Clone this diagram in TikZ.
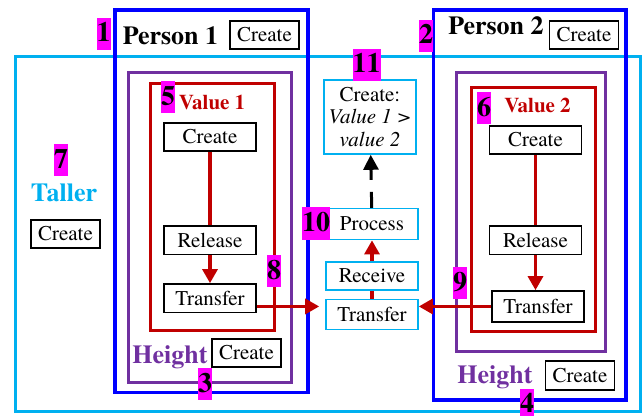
\documentclass[tikz,border=0pt]{standalone}
\usepackage{xcolor}
\usepackage{fontspec}
\setmainfont{texgyretermes}[
  Extension = .otf,
  UprightFont = *-regular,
  BoldFont = *-bold,
  ItalicFont = *-italic,
  BoldItalicFont = *-bolditalic
]
\usepackage{tikz}
\usetikzlibrary{arrows.meta,positioning}
\definecolor{skyline}{HTML}{00B0F0}
\definecolor{personblue}{HTML}{0000FF}
\definecolor{heightviolet}{HTML}{7030A0}
\definecolor{valuered}{HTML}{C00000}
\definecolor{tagpink}{HTML}{FF00FF}
\tikzset{
  every picture/.style = {
    x = 1pt,
    y = -1pt,
  }
  ,
  border line/.style = {
    line width = 3pt
  }
  , % boxes with a step
  action/.style = {
    rectangle,
    draw,
    fill = white,
    line width = 1.6pt,
    font = \fontsize{21}{22.5}\selectfont,
    minimum width = 92pt,
    minimum height = 28.5pt,
    inner sep = 1pt
  }
  ,
  small action/.style = {
    action,
    minimum width = 69pt
  }
  ,
  flow/.style = {
    action,
    draw = skyline
  }
  , % titles of the frames
  heading/.style = {
    font = \fontsize{26}{26}\selectfont\bfseries,
    anchor = base
  }
  , % numbered tags
  numtag/.style = {
    fill = tagpink,
    font = \fontsize{28}{28}\selectfont\bfseries,
    inner sep = 0pt,
    text height = 24pt,
    text depth = 8pt
  }
  ,
  red link/.style = {
    draw = valuered,
    line width = 3.2pt
  }
  ,
  red arrow/.style = {
    red link,
    -{Triangle[length=14pt,width=15pt]}
  }
  ,
  dash arrow/.style = {
    draw = black,
    line width = 3pt,
    dash pattern = on 16pt off 12pt on 60pt,
    -{Triangle[length=15pt,width=15pt]}
  }
}

\begin{document}
\begin{tikzpicture}
\useasboundingbox (0,0) rectangle (643,417);

% frames
\draw[border line, skyline] (15,57) rectangle (640,411.5);
\draw[border line, personblue, line width=3.5pt] (115,10) rectangle (308,392.5);
\draw[border line, personblue, line width=3.5pt] (433.5,10) rectangle (626,400);
\draw[border line, heightviolet] (128.5,72.5) rectangle (291,382.5);
\draw[border line, heightviolet] (456.5,72.5) rectangle (605.5,351.5);
\draw[border line, valuered] (150,83.5) rectangle (274.5,330.5);
\draw[border line, valuered] (471.5,87.5) rectangle (595,331.5);

% value 1
\node [action] (lcreate) at (210,137) {Create};
\node [action, below = 73pt of lcreate] (lrelease) {Release};
\node [action, below = 28pt of lrelease] (ltransfer) {Transfer};

% value 2
\node [action] (rcreate) at (535.5,140) {Create};
\node [action, below = 70pt of rcreate] (rrelease) {Release};
\node [action, below = 35pt of rrelease, xshift = 2.5pt, minimum height = 31pt] (rtransfer) {Transfer};

% middle column
\node [flow, align = center, minimum height = 74pt] (result) at (370,117) {Create:\\\textit{Value 1 >}\\\textit{value 2}};
\node [flow, below = 53pt of result, xshift = 2pt, minimum height = 31pt] (process) {Process};
\node [flow, below = 21pt of process, minimum height = 27.5pt] (receive) {Receive};
\node [flow, below = 8pt of receive, minimum height = 30pt] (mtransfer) {Transfer};

% create boxes of the frames
\node [small action] (p1create) at (264.5,35) {Create};
\node [small action] (p2create) at (584,35) {Create};
\node [small action] (tcreate) at (65.5,234) {Create};
\node [small action] (h1create) at (246.5,353) {Create};
\node [small action] (h2create) at (580,375.5) {Create};

% headings
\node [heading] (person1) at (170.5,45) {Person 1};
\node [heading] (person2) at (496,35) {Person 2};
\node [heading, skyline] (taller) at (64,202) {Taller};
\node [heading, valuered, font = \fontsize{21}{21}\selectfont\bfseries] (value1) at (212,110) {Value 1};
\node [heading, valuered, font = \fontsize{21}{21}\selectfont\bfseries] (value2) at (537.5,113) {Value 2};
\node [heading, heightviolet] (height1) at (170,363) {Height};
\node [heading, heightviolet] (height2) at (495,383) {Height};

% tags
\node [numtag] (tag1) at (103.5,34) {1};
\node [numtag] (tag2) at (426,36) {2};
\node [numtag] (tag3) at (205,384) {3};
\node [numtag, text depth = 3pt] (tag4) at (527,402) {4};
\node [numtag] (tag5) at (168,97.5) {5};
\node [numtag] (tag6) at (484,108.5) {6};
\node [numtag] (tag7) at (61,160) {7};
\node [numtag] (tag8) at (274,271) {8};
\node [numtag] (tag9) at (460,283) {9};
\node [numtag] (tag10) at (316,223.5) {10};
\node [numtag] (tag11) at (366.5,65) {11};

\draw[red link] (lcreate) -- (lrelease);
\draw[red arrow] (lrelease) -- (ltransfer);
\draw[red link] (rcreate) -- (rrelease);
\draw[red arrow] (rrelease) -- (rrelease |- rtransfer.north);
\draw[red arrow, shorten >= 6pt] (ltransfer.east |- rtransfer.west) -- (mtransfer.west |- rtransfer.west);
\draw[red arrow] (rtransfer) -- (mtransfer.east |- rtransfer.west);
\draw[red link] (mtransfer) -- (receive);
\draw[red arrow] (receive) -- (process);
\draw[dash arrow] (process) -- (result);
\end{tikzpicture}
\end{document}
